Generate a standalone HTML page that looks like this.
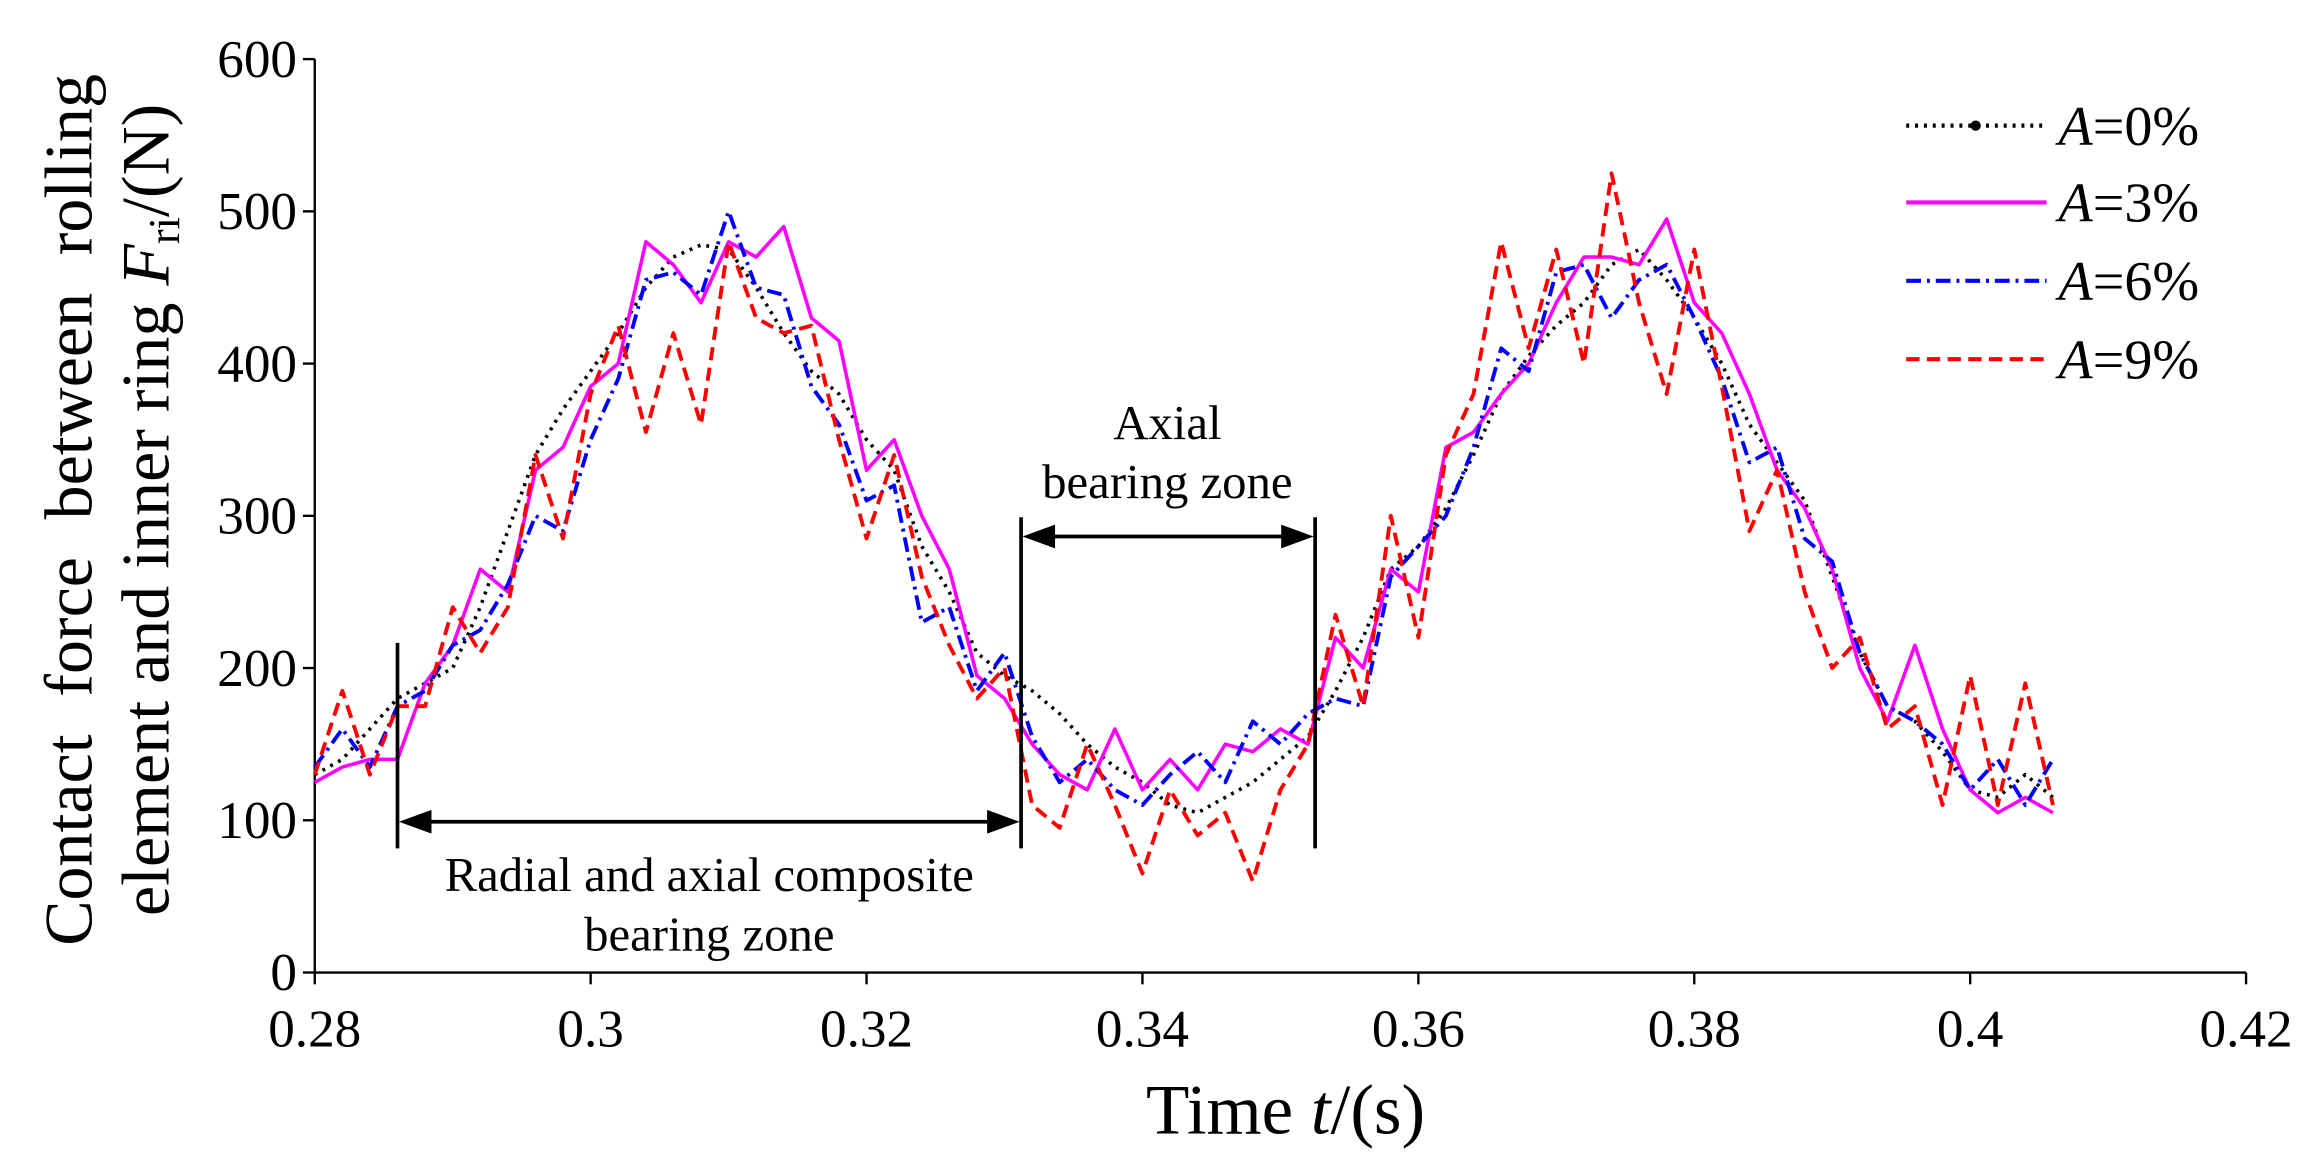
<!DOCTYPE html>
<html><head><meta charset="utf-8"><style>
html,body{margin:0;padding:0;background:#fff;}
svg{display:block;font-family:"Liberation Serif",serif;}
</style></head><body>
<svg id="chart" width="2317" height="1175" viewBox="0 0 1568 795" preserveAspectRatio="none" xmlns="http://www.w3.org/2000/svg">
<rect width="1568" height="795" fill="#fff"/>
<g id="axes"></g>
<g id="series"></g>
<g id="annot" stroke="#000" stroke-width="2.5" fill="#000">
  <line x1="269" y1="435" x2="269" y2="574"/>
  <line x1="691" y1="350" x2="691" y2="574"/>
  <line x1="890" y1="350" x2="890" y2="574"/>
  <line x1="290" y1="556" x2="670" y2="556"/>
  <polygon points="270,556 292,548 292,564" stroke="none"/>
  <polygon points="690,556 668,548 668,564" stroke="none"/>
  <line x1="712" y1="363" x2="869" y2="363"/>
  <polygon points="692,363 714,355 714,371" stroke="none"/>
  <polygon points="889,363 867,355 867,371" stroke="none"/>
  <g stroke="none" font-size="33" text-anchor="middle">
    <text x="480" y="603">Radial and axial composite</text>
    <text x="480" y="643">bearing zone</text>
    <text x="790" y="297">Axial</text>
    <text x="790" y="337">bearing zone</text>
  </g>
</g>
<g id="legend"></g>
<g font-size="46" text-anchor="middle">
  <text transform="translate(62,345) rotate(-90)" word-spacing="14">Contact force between rolling</text>
  <text transform="translate(114,345) rotate(-90)">element and inner ring <tspan font-style="italic">F</tspan><tspan font-size="30" dy="7">ri</tspan><tspan dy="-7">/(N)</tspan></text>
</g>
<text x="870" y="767" font-size="48" text-anchor="middle">Time <tspan font-style="italic">t</tspan>/(s)</text>
</svg>
<script>
const xTicks=[0.28,0.3,0.32,0.34,0.36,0.38,0.4,0.42];
const xTickLabels=["0.28","0.3","0.32","0.34","0.36","0.38","0.4","0.42"];
const yTicks=[0,100,200,300,400,500,600];
const tStart=0.28, tStep=0.002;
const seriesNames=["A=0%","A=3%","A=6%","A=9%"];
const a0=[130,140,160,180,190,200,240,290,340,370,395,420,450,470,478,475,450,420,395,380,350,330,280,250,210,195,185,170,150,135,125,110,105,115,125,140,155,185,220,265,280,305,340,380,405,425,440,465,475,455,430,400,360,335,310,260,210,175,165,145,120,115,130,115];
const a3=[125,135,140,140,190,215,265,250,330,345,385,400,480,465,440,480,470,490,430,415,330,350,300,265,195,180,150,130,120,160,120,140,120,150,145,160,150,220,200,265,250,345,355,380,400,440,470,470,465,495,440,420,380,330,305,265,200,165,215,160,120,105,115,105];
const a6=[135,160,135,175,185,215,225,255,300,290,350,390,455,460,445,500,450,445,385,360,310,320,230,240,185,210,155,125,140,120,110,130,145,125,165,150,170,180,175,260,280,300,345,410,395,460,465,430,455,465,430,390,335,345,285,270,210,175,165,150,120,140,110,140];
const a9=[130,185,130,175,175,240,210,240,340,285,380,425,355,420,360,480,430,420,425,350,285,340,260,215,180,200,110,95,150,110,65,120,90,105,60,120,150,235,175,300,220,340,380,480,410,475,400,525,440,380,475,385,290,330,250,200,220,160,175,110,195,110,190,110];
const X0=213,X1=1520,Y0=658,Y1=40;
const xs=t=>X0+(t-0.28)/(0.42-0.28)*(X1-X0);
const ys=v=>Y0-(v/600)*(Y0-Y1);
const NS="http://www.w3.org/2000/svg";
function mk(tag,attrs,parent){const e=document.createElementNS(NS,tag);for(const k in attrs)e.setAttribute(k,attrs[k]);parent.appendChild(e);return e;}
const axes=document.getElementById('axes');
const xa=mk('line',{x1:X0,y1:Y0,x2:X1,y2:Y0,stroke:'#000','stroke-width':1.6},axes);


const ya=mk('line',{x1:X0,y1:Y0,x2:X0,y2:Y1,stroke:'#000','stroke-width':1.6},axes);


xTicks.forEach((t,i)=>{
  mk('line',{x1:xs(t),y1:Y0,x2:xs(t),y2:Y0+8,stroke:'#000','stroke-width':1.6},axes);
  const tx=mk('text',{x:xs(t),y:Y0+50,'font-size':36,'text-anchor':'middle'},axes);
  tx.textContent=xTickLabels[i];
  
  
});
yTicks.forEach(v=>{
  mk('line',{x1:X0-8,y1:ys(v),x2:X0,y2:ys(v),stroke:'#000','stroke-width':1.6},axes);
  const tx=mk('text',{x:X0-12,y:ys(v)+12,'font-size':36,'text-anchor':'end'},axes);
  tx.textContent=String(v);
  
  
});
const styles=[
  {c:'#000',d:'2 4',w:2.4,name:'series-a0'},
  {c:'#ff00ff',d:'',w:2.4,name:'series-a3'},
  {c:'#0000ff',d:'10 4 2 4',w:2.6,name:'series-a6'},
  {c:'#ff0000',d:'9 5',w:2.6,name:'series-a9'}];
const data=[a0,a3,a6,a9];
const sg=document.getElementById('series');
data.forEach((arr,si)=>{
  const pts=arr.map((v,i)=>xs(tStart+i*tStep).toFixed(1)+','+ys(v).toFixed(1)).join(' ');
  const p=mk('polyline',{points:pts,fill:'none',stroke:styles[si].c,'stroke-width':styles[si].w,'stroke-dasharray':styles[si].d,'stroke-linejoin':'round'},sg);
  
  
});
const lg=document.getElementById('legend');
const ly=[85,137,190,243];
seriesNames.forEach((n,i)=>{
  const l=mk('line',{x1:1290,y1:ly[i],x2:1385,y2:ly[i],stroke:styles[i].c,'stroke-width':2.8,'stroke-dasharray':styles[i].d},lg);
  
  
  if(i===0){mk('circle',{cx:1337,cy:ly[i],r:3.5,fill:'#000'},lg);}
  const t=mk('text',{x:1393,y:ly[i]+13,'font-size':38},lg);
  
  
  const it=mk('tspan',{'font-style':'italic'},t);it.textContent='A';
  const r=mk('tspan',{},t);r.textContent=n.slice(1);
});
</script>
</body></html>
